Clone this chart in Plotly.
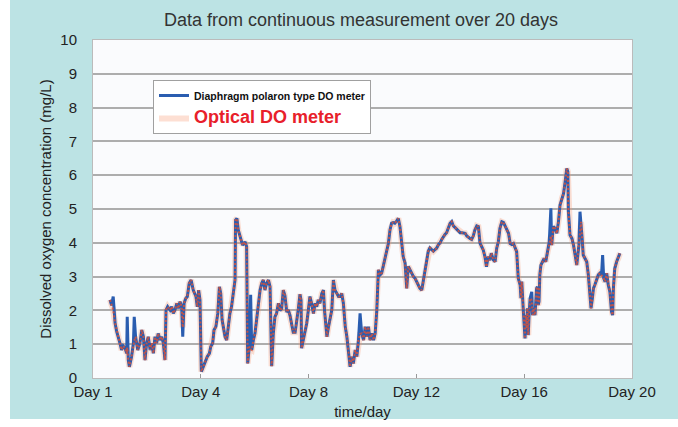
import plotly.graph_objects as go

# time axis (days since start; tick 0 is labelled "Day 1")
days = [0.63, 0.69, 0.75, 0.82, 0.88, 0.94, 1.00, 1.06, 1.12, 1.19, 1.25, 1.27, 1.31, 1.35, 1.43, 1.50,
        1.53, 1.58, 1.66, 1.74, 1.81, 1.87, 1.93, 1.99, 2.05, 2.12, 2.18, 2.24, 2.30, 2.36, 2.42, 2.49,
        2.55, 2.61, 2.67, 2.71, 2.77, 2.86, 2.92, 2.98, 3.04, 3.11, 3.17, 3.23, 3.29, 3.33, 3.38, 3.44,
        3.50, 3.57, 3.64, 3.72, 3.82, 3.87, 3.92, 3.97, 4.02, 4.09, 4.16, 4.24, 4.32, 4.37, 4.44, 4.49,
        4.56, 4.63, 4.69, 4.74, 4.79, 4.84, 4.90, 4.96, 5.02, 5.08, 5.14, 5.21, 5.27, 5.29, 5.34, 5.39,
        5.48, 5.55, 5.64, 5.70, 5.74, 5.80, 5.85, 5.89, 5.95, 6.01, 6.07, 6.13, 6.20, 6.26, 6.32, 6.38,
        6.44, 6.51, 6.57, 6.63, 6.69, 6.75, 6.81, 6.88, 6.94, 7.00, 7.06, 7.12, 7.19, 7.25, 7.31, 7.37,
        7.43, 7.50, 7.56, 7.62, 7.68, 7.72, 7.74, 7.80, 7.87, 7.93, 7.99, 8.05, 8.11, 8.18, 8.24, 8.30,
        8.36, 8.42, 8.49, 8.55, 8.59, 8.64, 8.68, 8.74, 8.80, 8.86, 8.92, 8.98, 9.05, 9.11, 9.17, 9.23,
        9.29, 9.36, 9.42, 9.48, 9.54, 9.60, 9.66, 9.73, 9.79, 9.85, 9.91, 9.97, 10.04, 10.10, 10.16, 10.22,
        10.28, 10.35, 10.41, 10.47, 10.53, 10.59, 10.65, 10.71, 10.77, 10.83, 10.90, 10.96, 11.02, 11.08, 11.14, 11.20,
        11.27, 11.33, 11.39, 11.45, 11.51, 11.58, 11.64, 11.70, 11.76, 11.83, 11.89, 11.95, 12.01, 12.07, 12.13, 12.20,
        12.26, 12.32, 12.38, 12.44, 12.50, 12.56, 12.63, 12.69, 12.75, 12.82, 12.88, 12.94, 13.00, 13.06, 13.12, 13.19,
        13.25, 13.31, 13.37, 13.44, 13.50, 13.56, 13.62, 13.69, 13.75, 13.81, 13.87, 13.93, 13.99, 14.05, 14.11, 14.17,
        14.24, 14.30, 14.36, 14.42, 14.48, 14.54, 14.60, 14.66, 14.72, 14.78, 14.85, 14.92, 14.98, 15.04, 15.10, 15.17,
        15.23, 15.29, 15.35, 15.42, 15.48, 15.54, 15.60, 15.66, 15.72, 15.78, 15.85, 15.88, 15.91, 15.97, 16.00, 16.03,
        16.06, 16.09, 16.12, 16.15, 16.18, 16.22, 16.28, 16.31, 16.34, 16.40, 16.46, 16.49, 16.52, 16.55, 16.58, 16.62,
        16.68, 16.74, 16.80, 16.87, 16.93, 16.99, 17.02, 17.08, 17.15, 17.21, 17.27, 17.33, 17.40, 17.46, 17.52, 17.58,
        17.62, 17.64, 17.70, 17.77, 17.83, 17.89, 17.95, 17.99, 18.03, 18.07, 18.11, 18.15, 18.19, 18.26, 18.32, 18.38,
        18.42, 18.44, 18.48, 18.53, 18.57, 18.62, 18.69, 18.75, 18.81, 18.87, 18.91, 18.95, 19.00, 19.06, 19.12, 19.18,
        19.24, 19.28, 19.31, 19.36, 19.43, 19.49, 19.55]

optical = [2.31, 2.15, 2.01, 1.62, 1.37, 1.22, 1.03, 0.83, 0.95, 0.88, 0.73, 0.90, 0.53, 0.33, 0.63, 1.03,
           1.10, 1.22, 0.83, 1.03, 1.42, 1.22, 0.53, 1.03, 1.22, 0.83, 1.03, 0.73, 1.22, 1.03, 1.32, 1.12,
           1.22, 1.03, 0.53, 2.01, 2.11, 2.01, 2.11, 1.91, 2.01, 2.21, 2.06, 2.26, 2.11, 1.50, 2.21, 2.35,
           2.41, 2.80, 2.90, 2.60, 2.41, 2.11, 2.60, 2.31, 0.19, 0.33, 0.50, 0.63, 0.73, 0.93, 1.03, 1.42,
           1.52, 1.91, 2.70, 2.50, 1.72, 1.52, 1.22, 1.12, 1.52, 1.91, 2.11, 2.60, 2.90, 4.67, 4.72, 4.38,
           4.08, 3.93, 4.03, 3.89, 0.43, 0.93, 0.85, 0.83, 1.12, 1.32, 1.72, 2.11, 2.60, 2.80, 2.90, 2.60,
           2.80, 2.90, 2.70, 0.35, 1.32, 1.81, 1.91, 2.21, 2.00, 2.05, 2.60, 2.45, 1.95, 2.01, 1.85, 1.60,
           1.35, 1.35, 1.65, 2.05, 2.48, 2.30, 0.88, 1.10, 1.42, 1.62, 2.01, 2.41, 2.21, 1.91, 2.21, 2.11,
           2.31, 2.21, 2.50, 2.60, 2.01, 1.52, 1.22, 1.52, 1.72, 2.01, 2.90, 2.60, 2.50, 2.41, 2.41, 2.50,
           2.21, 1.52, 1.22, 0.83, 0.33, 0.63, 0.43, 0.83, 0.63, 1.12, 1.30, 1.32, 1.12, 1.52, 1.22, 1.52,
           1.12, 1.32, 1.12, 1.32, 2.00, 3.20, 3.05, 3.10, 3.30, 3.49, 3.79, 3.98, 4.38, 4.58, 4.60, 4.58,
           4.65, 4.72, 4.48, 4.08, 3.59, 3.40, 2.65, 3.30, 3.20, 3.10, 3.00, 2.95, 2.85, 2.75, 2.65, 2.60,
           2.90, 3.10, 3.49, 3.75, 3.85, 3.80, 3.75, 3.80, 3.84, 3.95, 4.00, 4.10, 4.20, 4.25, 4.30, 4.45,
           4.58, 4.63, 4.50, 4.45, 4.40, 4.38, 4.30, 4.30, 4.28, 4.28, 4.20, 4.15, 4.13, 4.10, 4.20, 4.38,
           4.50, 4.48, 3.99, 3.89, 3.79, 3.60, 3.29, 3.59, 3.49, 3.69, 3.50, 3.44, 3.84, 4.03, 4.43, 4.62,
           4.60, 4.50, 4.40, 4.28, 3.98, 3.95, 3.98, 3.85, 3.74, 2.95, 2.75, 2.36, 2.85, 1.96, 1.47, 1.17,
           1.86, 1.47, 2.06, 1.27, 1.86, 2.36, 2.30, 1.86, 2.06, 1.86, 2.65, 2.70, 2.16, 2.26, 3.05, 3.34,
           3.44, 3.54, 3.44, 3.74, 4.03, 4.20, 3.93, 4.48, 4.43, 4.28, 4.62, 5.12, 5.32, 5.46, 5.81, 6.20,
           6.10, 4.92, 4.23, 4.13, 3.93, 3.64, 3.34, 3.64, 3.93, 4.40, 4.62, 4.13, 3.64, 3.54, 3.44, 3.05,
           2.65, 2.26, 2.06, 2.36, 2.65, 2.75, 2.95, 3.05, 3.10, 3.05, 3.00, 2.95, 2.85, 3.10, 2.75, 2.55,
           1.96, 1.86, 2.65, 3.24, 3.44, 3.54, 3.69]

diaphragm = [2.31, 2.15, 2.41, 1.62, 1.37, 1.22, 1.03, 0.83, 0.95, 0.88, 0.73, 1.81, 0.53, 0.33, 0.63, 1.03,
             1.81, 1.22, 0.83, 1.03, 1.42, 1.22, 0.53, 1.03, 1.22, 0.83, 1.03, 0.73, 1.22, 1.03, 1.32, 1.12,
             1.22, 1.03, 0.53, 2.01, 2.11, 2.01, 2.11, 1.91, 2.01, 2.21, 2.06, 2.26, 2.11, 1.22, 2.21, 2.35,
             2.41, 2.80, 2.90, 2.60, 2.41, 2.11, 2.60, 2.31, 0.19, 0.33, 0.50, 0.63, 0.73, 0.93, 1.03, 1.42,
             1.52, 1.91, 2.70, 2.50, 1.72, 1.52, 1.22, 1.12, 1.52, 1.91, 2.11, 2.60, 2.90, 4.67, 4.72, 4.38,
             4.08, 3.93, 4.03, 3.89, 0.43, 0.93, 2.46, 0.83, 1.12, 1.32, 1.72, 2.11, 2.60, 2.80, 2.90, 2.60,
             2.80, 2.90, 2.70, 0.35, 1.32, 1.81, 1.91, 2.21, 2.00, 2.05, 2.60, 2.45, 1.95, 2.01, 1.85, 1.60,
             1.35, 1.35, 1.65, 2.05, 2.48, 2.30, 0.88, 1.10, 1.42, 1.62, 2.01, 2.41, 2.21, 1.91, 2.21, 2.11,
             2.31, 2.21, 2.50, 2.60, 2.01, 1.52, 1.22, 1.52, 1.72, 2.01, 2.90, 2.60, 2.50, 2.41, 2.41, 2.50,
             2.21, 1.52, 1.22, 0.83, 0.33, 0.63, 0.43, 0.83, 0.63, 1.12, 1.91, 1.32, 1.12, 1.52, 1.22, 1.52,
             1.12, 1.32, 1.12, 1.32, 2.00, 3.20, 3.05, 3.10, 3.30, 3.49, 3.79, 3.98, 4.38, 4.58, 4.60, 4.58,
             4.65, 4.72, 4.48, 4.08, 3.59, 3.40, 2.65, 3.30, 3.20, 3.10, 3.00, 2.95, 2.85, 2.75, 2.65, 2.60,
             2.90, 3.10, 3.49, 3.75, 3.85, 3.80, 3.75, 3.80, 3.84, 3.95, 4.00, 4.10, 4.20, 4.25, 4.30, 4.45,
             4.58, 4.63, 4.50, 4.45, 4.40, 4.38, 4.30, 4.30, 4.28, 4.28, 4.20, 4.15, 4.13, 4.10, 4.20, 4.38,
             4.50, 4.48, 3.99, 3.89, 3.79, 3.60, 3.29, 3.59, 3.49, 3.69, 3.50, 3.44, 3.84, 4.03, 4.43, 4.62,
             4.60, 4.50, 4.40, 4.28, 3.98, 3.95, 3.98, 3.85, 3.74, 2.95, 2.75, 2.36, 2.85, 1.96, 1.47, 1.17,
             1.86, 1.47, 2.06, 1.27, 1.86, 2.36, 2.55, 1.86, 2.06, 1.86, 2.65, 2.70, 2.16, 2.26, 3.05, 3.34,
             3.44, 3.54, 3.44, 3.74, 4.03, 5.02, 3.93, 4.48, 4.43, 4.28, 4.62, 5.12, 5.32, 5.46, 5.81, 6.20,
             6.10, 4.92, 4.23, 4.13, 3.93, 3.64, 3.34, 3.64, 3.93, 4.92, 4.62, 4.13, 3.64, 3.54, 3.44, 3.05,
             2.65, 2.26, 2.06, 2.36, 2.65, 2.75, 2.95, 3.05, 3.10, 3.05, 3.64, 2.95, 2.85, 3.10, 2.75, 2.55,
             1.96, 1.86, 2.65, 3.24, 3.44, 3.54, 3.69]

tick_vals = [0, 4, 8, 12, 16, 20]
tick_text = ["Day 1", "Day 4", "Day 8", "Day 12", "Day 16", "Day 20"]
y_ticks = list(range(0, 11))

W, H = 678, 427
ML, MR, MT, MB = 93, 46, 40, 49
PW, PH = W - ML - MR, H - MT - MB
TEAL = "#BCE3E4"
FONT = "Liberation Sans, Arial, sans-serif"

fig = go.Figure()

# faint orange halo (legend entry for optical meter)
fig.add_trace(go.Scatter(
    x=days, y=optical, mode="lines",
    name="<span style='font-family:Liberation Sans;font-size:18px;color:#E8202A'><b>Optical DO meter</b></span>",
    line=dict(color="rgba(248,150,110,0.30)", width=6),
    legendrank=2, legendgroup="opt", hoverinfo="skip"))

fig.add_trace(go.Scatter(
    x=days, y=diaphragm, mode="lines",
    name="<b>Diaphragm polaron type DO meter</b>",
    line=dict(color="#2A5DB0", width=3),
    legendrank=1, legendgroup="dia"))

fig.add_trace(go.Scatter(
    x=days, y=optical, mode="lines", showlegend=False, legendgroup="opt",
    line=dict(color="rgba(240,80,40,0.75)", width=2, dash="2px,2px")))

# white outer strips (left and bottom edge of the image)
fig.add_shape(type="rect", xref="paper", yref="paper",
              x0=-ML / PW, x1=-(ML - 10) / PW,
              y0=-MB / PH, y1=1 + MT / PH,
              fillcolor="white", line_width=0, layer="above")
fig.add_shape(type="rect", xref="paper", yref="paper",
              x0=-ML / PW, x1=1 + MR / PW,
              y0=-MB / PH, y1=-(MB - 8) / PH,
              fillcolor="white", line_width=0, layer="above")

fig.update_layout(
    width=W, height=H,
    margin=dict(l=ML, r=MR, t=MT, b=MB, autoexpand=False),
    paper_bgcolor=TEAL,
    plot_bgcolor="#FAFBFD",
    font=dict(family=FONT, size=15, color="#222"),
    title=dict(text="Data from continuous measurement over 20 days",
               x=361 / W, xref="container", xanchor="center",
               y=1 - 20 / H, yref="container", yanchor="middle",
               font=dict(size=18, color="#333")),
    showlegend=True,
    legend=dict(x=(153 - ML) / PW, y=1 - (80 - MT) / PH,
                xanchor="left", yanchor="top",
                bgcolor="white", bordercolor="#A0A0A0", borderwidth=1,
                font=dict(family=FONT, size=10.5, color="#111"),
                tracegroupgap=4, itemwidth=30),
)

fig.update_xaxes(range=[0, 20], tickvals=tick_vals, ticktext=tick_text,
                 showgrid=False, zeroline=False, automargin=False,
                 ticks="inside", ticklen=4, tickcolor="#999",
                 showline=True, linecolor="#BBBBBB", linewidth=1, mirror=True,
                 tickfont=dict(size=15, color="#222"),
                 title=dict(text="time/day", standoff=7, font=dict(size=15, color="#222")))
fig.update_yaxes(range=[0, 10], tickvals=y_ticks, automargin=False,
                 showgrid=True, gridcolor="#ADADAD", gridwidth=2, zeroline=False,
                 showline=True, linecolor="#BBBBBB", linewidth=1, mirror=True,
                 ticks="", ticklabelstandoff=12,
                 tickfont=dict(size=15, color="#222"),
                 title=dict(text="Dissolved oxygen concentration (mg/L)", standoff=5,
                            font=dict(size=15, color="#222")))

fig.write_html("out.html", config={"displayModeBar": False},
               post_script="document.body.style.margin='0';")
